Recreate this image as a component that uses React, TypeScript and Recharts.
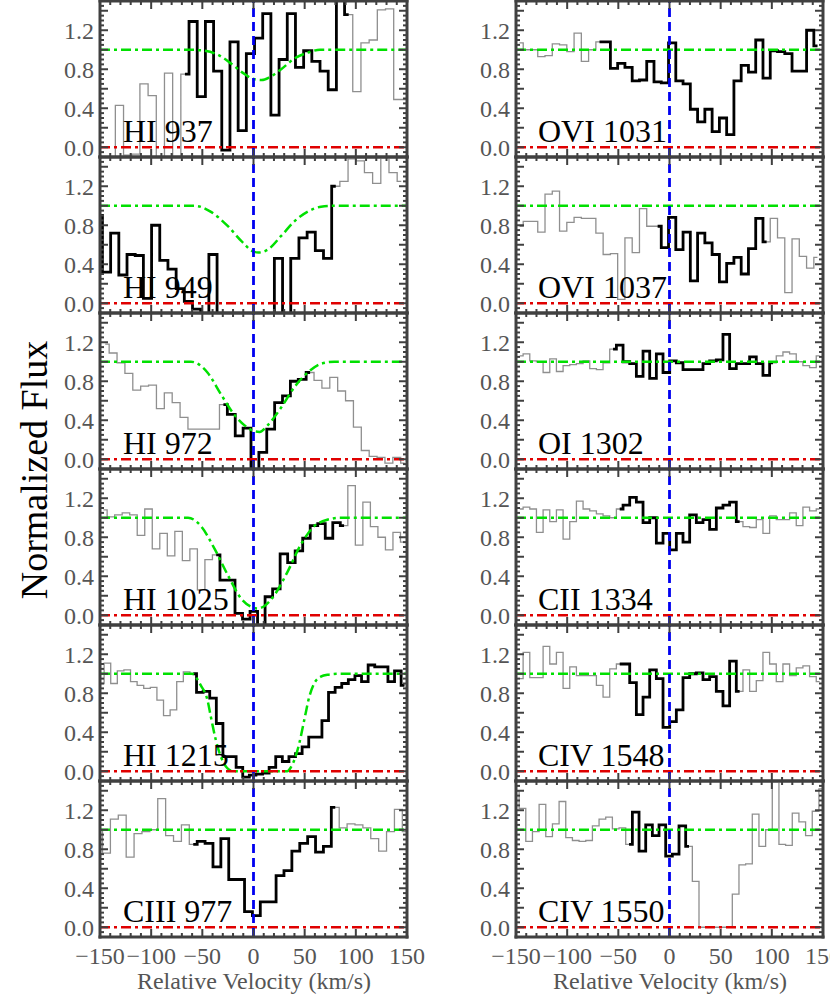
import React from 'react';
import { ComposedChart, Line, XAxis, YAxis, ReferenceLine } from 'recharts';

const SERIF = '"Liberation Serif", "Times New Roman", serif';
const FRAME = '#404040';

const xLabels = [-150, -100, -50, 0, 50, 100, 150];
const yLabels = [0, 0.4, 0.8, 1.2];
const xTicks = Array.from({ length: 31 }, (_, i) => -150 + 10 * i);
const yTicks = Array.from({ length: 31 }, (_, i) => Math.round((-0.05 + 0.05 * i) * 100) / 100);

// grid = [first bin centre (km/s), bin width], black = [first, last] bin drawn in black
const hi937Grid = [-147, 8];
const hi937Flux = [-0.15, -0.15, 0.43, -0.08, -0.07, 0.65, 0.53, -0.15, 0.76, -0.15, 0.75, 1.29, 0.52, 1.29, 0.78, -0.03, 1.08, 0.17, 0.96, 1.12, 1.37, 0.33, 0.9, 1.37, 0.82, 0.99, 0.88, 0.78, 0.59, 1.65, 1.36, 0.57, 1.07, 1.1, 1.41, 1.42, 0.49, 0.49];
const hi937Black = [10, 30];
const hi937Fit = [[-150, 1], [-60, 1], [-48, 0.99], [-35, 0.95], [-22, 0.86], [-10, 0.76], [0, 0.7], [8, 0.69], [16, 0.72], [27, 0.8], [40, 0.91], [53, 0.97], [65, 1], [150, 1]];

const hi949Grid = [-151.6, 8];
const hi949Flux = [0.9, 0.32, 0.72, 0.29, 0.5, 0.49, 0.05, 0.8, 0.44, 0.35, 0.15, 0.02, -0.06, -0.15, 0.5, -0.15, -0.15, -0.15, -0.15, -0.15, -0.15, -0.15, 0.46, -0.15, 0.46, 0.67, 0.73, 0.54, 0.46, 1.2, 1.25, 1.48, 1.46, 1.34, 1.23, 1.55, 1.34, 1.25];
const hi949Black = [0, 29];
const hi949Fit = [[-150, 1], [-58, 1], [-42, 0.94], [-25, 0.79], [-12, 0.64], [0, 0.53], [5, 0.52], [14, 0.55], [27, 0.69], [40, 0.84], [53, 0.94], [66, 0.99], [79, 1], [150, 1]];

const hi972Grid = [-144.9, 7.7];
const hi972Flux = [1.18, 1.09, 0.99, 0.88, 0.71, 0.75, 0.76, 0.52, 0.68, 0.58, 0.43, 0.31, 0.31, 0.31, 0.31, 0.56, 0.46, 0.24, 0.32, -0.15, 0.07, 0.31, 0.58, 0.65, 0.8, 0.82, 0.89, 0.81, 0.73, 0.84, 0.7, 0.6, 0.33, 0.09, 0.03, 0.02, -0.04, 0.02, -0.04];
const hi972Black = [15, 26];
const hi972Fit = [[-150, 1], [-61, 1], [-45, 0.89], [-32, 0.67], [-19, 0.46], [-9, 0.35], [0, 0.29], [6, 0.28], [14, 0.35], [27, 0.53], [40, 0.74], [53, 0.89], [66, 0.98], [79, 1], [150, 1]];

const hi1025Grid = [-146.7, 7.35];
const hi1025Flux = [1.08, 1.01, 1.03, 1.05, 1.03, 0.82, 1.09, 0.68, 0.84, 0.61, 0.86, 0.56, 0.68, 0.26, 0.57, 0.62, 0.36, 0.36, 0.02, -0.04, 0.04, -0.15, 0.19, 0.27, 0.63, 0.54, 0.66, 0.79, 0.92, 0.94, 0.79, 0.95, 0.92, 1.33, 0.72, 1.16, 0.91, 0.8, 0.67, 0.85, 0.75];
const hi1025Black = [15, 32];
const hi1025Fit = [[-150, 1], [-64, 1], [-51, 0.91], [-38, 0.68], [-25, 0.41], [-12, 0.17], [-3, 0.09], [4, 0.07], [10, 0.09], [20, 0.2], [33, 0.44], [46, 0.72], [59, 0.91], [72, 0.98], [85, 1], [150, 1]];

const hi1215Grid = [-149.2, 6.45];
const hi1215Flux = [0.9, 1.11, 0.9, 1.03, 1.04, 0.92, 0.88, 0.85, 0.86, 0.73, 0.57, 0.63, 0.92, 1.02, 1.0, 0.81, 0.82, 0.75, 0.49, 0.15, 0.15, 0.04, -0.06, -0.04, -0.03, -0.02, 0.04, 0.15, 0.1, 0.15, 0.18, 0.25, 0.35, 0.35, 0.52, 0.81, 0.86, 0.9, 0.94, 0.98, 0.92, 1.09, 1.07, 1.07, 0.92, 1.03, 0.88];
const hi1215Black = [14, 46];
const hi1215Fit = [[-150, 1], [-60, 1], [-51.5, 0.88], [-45, 0.73], [-41.7, 0.56], [-36.8, 0.32], [-31.9, 0.15], [-25.4, 0.03], [-19, 0], [33, 0], [36.5, 0.04], [39.7, 0.11], [44.6, 0.28], [49.5, 0.52], [54.4, 0.76], [59.3, 0.9], [65.8, 0.97], [72.3, 0.99], [85, 1], [150, 1]];

const ciii977Grid = [-151.4, 7.71];
const ciii977Flux = [1.0, 0.76, 1.11, 1.15, 0.72, 0.96, 0.98, 1.0, 1.32, 0.94, 0.88, 1.05, 0.85, 0.88, 0.86, 0.62, 0.91, 0.49, 0.49, 0.16, 0.12, 0.26, 0.26, 0.53, 0.58, 0.78, 0.86, 0.93, 0.77, 0.83, 1.23, 1.02, 1.06, 1.05, 1.02, 0.91, 0.78, 0.98, 1.21, 0.98];
const ciii977Black = [12, 30];

const ovi1031Grid = [-146.5, 7.1];
const ovi1031Flux = [1.07, 1.0, 1.0, 0.93, 0.94, 1.06, 1.05, 0.98, 1.17, 0.88, 1.0, 1.08, 1.08, 0.81, 0.86, 0.82, 0.68, 0.69, 0.88, 0.67, 0.66, 1.07, 0.68, 0.65, 0.39, 0.26, 0.39, 0.16, 0.3, 0.13, 0.68, 0.84, 0.77, 1.1, 0.71, 0.99, 0.98, 0.96, 0.78, 0.78, 1.2, 1.04];
const ovi1031Black = [11, 41];

const ovi1037Grid = [-146.5, 7.1];
const ovi1037Flux = [0.79, 0.84, 0.84, 0.73, 1.12, 1.15, 0.74, 0.83, 0.88, 0.87, 0.87, 0.72, 0.5, 0.51, 0.04, 0.67, 0.52, 0.97, 0.79, 0.79, 0.57, 0.88, 0.55, 0.73, 0.23, 0.72, 0.62, 0.5, 0.22, 0.41, 0.47, 0.3, 0.56, 0.87, 0.63, 0.87, 0.67, 0.11, 0.66, 0.48, 0.36, 0.47];
const ovi1037Black = [19, 34];

const oi1302Grid = [-146.3, 6.51];
const oi1302Flux = [1.06, 1.08, 1.01, 1.0, 0.89, 1.03, 0.9, 0.96, 0.97, 0.98, 1.01, 0.93, 0.92, 0.99, 1.13, 1.17, 1.0, 0.98, 0.85, 1.11, 0.83, 1.08, 0.89, 1.01, 0.99, 0.92, 0.92, 0.92, 0.98, 1.01, 1.02, 1.28, 0.93, 0.98, 0.98, 1.05, 0.98, 0.86, 0.99, 1.06, 1.1, 1.08, 1.0, 0.96, 0.94, 1.06];
const oi1302Black = [14, 38];

const cii1334Grid = [-146.3, 6.51];
const cii1334Flux = [1.09, 1.11, 1.09, 0.85, 1.08, 0.96, 1.08, 0.78, 0.96, 1.17, 1.09, 1.07, 1.04, 1.02, 1.0, 1.09, 1.13, 1.21, 1.16, 0.95, 1.0, 0.74, 0.84, 0.67, 0.84, 0.75, 1.03, 0.95, 0.98, 0.88, 1.1, 1.13, 1.16, 0.96, 0.91, 0.9, 0.98, 0.84, 1.02, 0.98, 0.98, 1.05, 0.92, 1.11, 1.07, 1.09];
const cii1334Black = [15, 33];

const civ1548Grid = [-146.3, 6.51];
const civ1548Flux = [0.95, 1.22, 0.96, 0.96, 1.28, 1.1, 1.22, 0.85, 1.07, 0.98, 0.98, 0.98, 0.88, 0.76, 1.05, 1.1, 1.1, 0.91, 0.58, 0.76, 1.04, 0.95, 0.45, 0.51, 0.63, 0.96, 1.0, 1.01, 0.94, 0.97, 0.82, 0.67, 1.13, 0.82, 1.04, 0.82, 0.93, 1.22, 1.1, 0.92, 1.1, 0.98, 1.06, 1.08, 0.97, 0.92];
const civ1548Black = [15, 33];

const civ1550Grid = [-150.2, 6.51];
const civ1550Flux = [1.4, 1.22, 0.88, 0.98, 1.26, 0.93, 1.06, 1.29, 0.92, 0.89, 0.88, 0.89, 1.04, 1.11, 1.13, 1.01, 1.02, 0.85, 1.18, 0.78, 1.05, 0.94, 1.05, 0.73, 0.75, 1.04, 0.83, 0.47, 0.0, 0.0, 0.0, 0.0, 0.0, 0.34, 0.64, 0.65, 1.16, 0.83, 1.0, 1.6, 0.85, 0.84, 1.17, 1.08, 0.94, 1.19, 1.42];
const civ1550Black = [17, 26];

type PanelDef = { label: string; col: number; row: number; grid: number[]; flux: number[]; black: number[]; fit?: number[][] };

const panels: PanelDef[] = [
  { label: 'HI 937', col: 0, row: 0, grid: hi937Grid, flux: hi937Flux, black: hi937Black, fit: hi937Fit },
  { label: 'HI 949', col: 0, row: 1, grid: hi949Grid, flux: hi949Flux, black: hi949Black, fit: hi949Fit },
  { label: 'HI 972', col: 0, row: 2, grid: hi972Grid, flux: hi972Flux, black: hi972Black, fit: hi972Fit },
  { label: 'HI 1025', col: 0, row: 3, grid: hi1025Grid, flux: hi1025Flux, black: hi1025Black, fit: hi1025Fit },
  { label: 'HI 1215', col: 0, row: 4, grid: hi1215Grid, flux: hi1215Flux, black: hi1215Black, fit: hi1215Fit },
  { label: 'CIII 977', col: 0, row: 5, grid: ciii977Grid, flux: ciii977Flux, black: ciii977Black },
  { label: 'OVI 1031', col: 1, row: 0, grid: ovi1031Grid, flux: ovi1031Flux, black: ovi1031Black },
  { label: 'OVI 1037', col: 1, row: 1, grid: ovi1037Grid, flux: ovi1037Flux, black: ovi1037Black },
  { label: 'OI 1302', col: 1, row: 2, grid: oi1302Grid, flux: oi1302Flux, black: oi1302Black },
  { label: 'CII 1334', col: 1, row: 3, grid: cii1334Grid, flux: cii1334Flux, black: cii1334Black },
  { label: 'CIV 1548', col: 1, row: 4, grid: civ1548Grid, flux: civ1548Flux, black: civ1548Black },
  { label: 'CIV 1550', col: 1, row: 5, grid: civ1550Grid, flux: civ1550Flux, black: civ1550Black },
];

const PLOT_W = 307;
const PLOT_H = 156;
const TOP_PAD = 10;
const BOTTOM_PAD = 45;
const frameLine = { stroke: FRAME, strokeWidth: 3, strokeLinecap: 'square' as const };
const fitDash = '10 4 3 4';

const fmtX = (v: number) => (v < 0 ? '\u2212' + Math.abs(v) : String(v));

const xTick = (side: 'bottom' | 'top', showLabel: boolean) => (props: any) => {
  const { x, y, payload } = props;
  const v = payload.value;
  const major = v % 50 === 0;
  const dir = side === 'bottom' ? -1 : 1;
  return (
    <g>
      <line x1={x} y1={y} x2={x} y2={y + dir * (major ? 8 : 4)} stroke={FRAME} strokeWidth={2} />
      {showLabel && xLabels.includes(v) && (
        <text x={x} y={y + 27} textAnchor="middle" fontSize={24} fontFamily={SERIF} fill="#555">
          {fmtX(v)}
        </text>
      )}
    </g>
  );
};

const yTick = (side: 'left' | 'right') => (props: any) => {
  const { x, y, payload } = props;
  const c = Math.round(payload.value * 100);
  const major = c % 20 === 0;
  const dir = side === 'left' ? 1 : -1;
  const label = side === 'left' && yLabels.some((t) => Math.round(t * 100) === c);
  return (
    <g>
      <line x1={x} y1={y} x2={x + dir * (major ? 8 : 4)} y2={y} stroke={FRAME} strokeWidth={2} />
      {label && (
        <text x={x - 6} y={y} dy="0.35em" textAnchor="end" fontSize={24} fontFamily={SERIF} fill="#555">
          {(c / 100).toFixed(1)}
        </text>
      )}
    </g>
  );
};

function Panel({ p }: { p: PanelDef }) {
  const left = p.col === 0 ? 0 : 430;
  const leftW = p.col === 0 ? 100 : 86;
  const rightW = p.col === 0 ? 30 : 7;
  const width = leftW + PLOT_W + rightW;
  const height = TOP_PAD + PLOT_H + BOTTOM_PAD;
  const top = 1 + PLOT_H * p.row - TOP_PAD;
  const isBottom = p.row === 5;

  const data = p.flux.map((f, i) => ({ v: p.grid[0] + p.grid[1] * i, f }));
  const black = data.slice(p.black[0], p.black[1] + 1);
  const fit = p.fit ? p.fit.map(([v, f]) => ({ v, f })) : null;

  return (
    <div style={{ position: 'absolute', left, top, width, height }}>
      <ComposedChart width={width} height={height} margin={{ top: 0, right: 0, bottom: 0, left: 0 }}>
        <XAxis xAxisId="b" orientation="bottom" dataKey="v" type="number" domain={[-150, 150]} allowDataOverflow
          ticks={xTicks} interval={0} height={BOTTOM_PAD} tickSize={0} tickMargin={0}
          axisLine={frameLine} tickLine={false} tick={xTick('bottom', isBottom)} />
        <XAxis xAxisId="t" orientation="top" dataKey="v" type="number" domain={[-150, 150]} allowDataOverflow
          ticks={xTicks} interval={0} height={TOP_PAD} tickSize={0} tickMargin={0}
          axisLine={frameLine} tickLine={false} tick={xTick('top', false)} />
        <YAxis yAxisId="l" orientation="left" type="number" domain={[-0.1, 1.5]} allowDataOverflow
          ticks={yTicks} interval={0} width={leftW} tickSize={0} tickMargin={0}
          axisLine={frameLine} tickLine={false} tick={yTick('left')} />
        <YAxis yAxisId="r" orientation="right" type="number" domain={[-0.1, 1.5]} allowDataOverflow
          ticks={yTicks} interval={0} width={rightW} tickSize={0} tickMargin={0}
          axisLine={frameLine} tickLine={false} tick={yTick('right')} />

        <Line xAxisId="b" yAxisId="l" data={data} dataKey="f" type="step" stroke="#8f8f8f" strokeWidth={1.3}
          dot={false} activeDot={false} isAnimationActive={false} />
        <Line xAxisId="b" yAxisId="l" data={black} dataKey="f" type="step" stroke="#000" strokeWidth={2.8}
          dot={false} activeDot={false} isAnimationActive={false} />
        {fit ? (
          <Line xAxisId="b" yAxisId="l" data={fit} dataKey="f" type="monotone" stroke="#00e000" strokeWidth={2.5}
            strokeDasharray={fitDash} dot={false} activeDot={false} isAnimationActive={false} />
        ) : (
          <ReferenceLine xAxisId="b" yAxisId="l" y={1} stroke="#00e000" strokeWidth={2.5} strokeDasharray={fitDash} />
        )}
        <ReferenceLine xAxisId="b" yAxisId="l" y={0} stroke="#e00000" strokeWidth={2.5} strokeDasharray={fitDash} />
        <ReferenceLine xAxisId="b" yAxisId="l" x={0} stroke="#0000f0" strokeWidth={2.8} strokeDasharray="9 5" />
      </ComposedChart>
    </div>
  );
}

export default function App() {
  return (
    <div style={{ position: 'absolute', left: 0, top: 0, width: 830, height: 997, overflow: 'hidden', background: '#fff' }}>
      {panels.map((p) => (
        <Panel key={p.label} p={p} />
      ))}
      <svg width={830} height={997} style={{ position: 'absolute', left: 0, top: 0, pointerEvents: 'none' }} fontFamily={SERIF}>
        {panels.map((p) => (
          <text key={p.label} x={p.col === 0 ? 123 : 538} y={1 + PLOT_H * p.row + 141} fontSize={32} fill="#000">
            {p.label}
          </text>
        ))}
        <text x={254} y={989} textAnchor="middle" fontSize={24} fill="#555">Relative Velocity (km/s)</text>
        <text x={670} y={989} textAnchor="middle" fontSize={24} fill="#555">Relative Velocity (km/s)</text>
        <text transform="translate(47,470) rotate(-90)" textAnchor="middle" fontSize={38} fill="#000">Normalized Flux</text>
      </svg>
    </div>
  );
}
